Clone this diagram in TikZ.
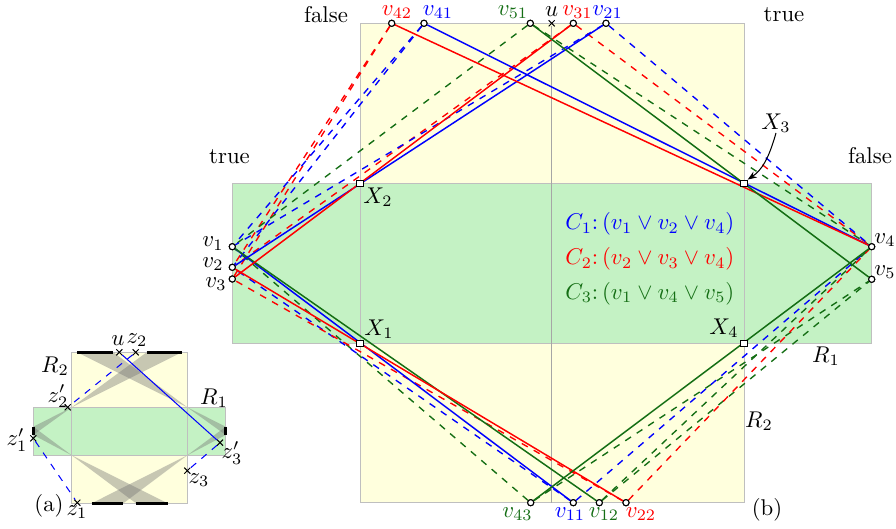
\documentclass[tikz,border=0pt]{standalone}
\usetikzlibrary{arrows.meta,shapes.misc}
\definecolor{dgreen}{RGB}{20,110,20}
\definecolor{yfill}{RGB}{255,255,221}
\definecolor{gfill}{RGB}{196,242,196}
\begin{document}
\begin{tikzpicture}[x=0.4386pt,y=-0.4386pt,
  vpt/.style={circle,draw=black,fill=white,inner sep=0pt,minimum size=2.7pt,line width=0.45pt},
  xpt/.style={rectangle,draw=black,fill=white,inner sep=0pt,minimum size=2.8pt,line width=0.45pt},
  crs/.style={cross out,draw=black,inner sep=0pt,minimum size=2.2pt,line width=0.45pt},
  sol/.style={line width=0.65pt},
  dsh/.style={line width=0.6pt,dashed},
  rborder/.style={draw=black!25,line width=0.4pt},
  fan/.style={fill=black!55,fill opacity=0.4},
  seg/.style={line width=1.2pt,black},
  lab/.style={inner sep=0pt}
]
\useasboundingbox (0,0) rectangle (896,529);

% ---------------- (b) ----------------
\fill[yfill] (360,23.3) rectangle (744,502.7);
\fill[gfill] (232.3,183.3) rectangle (871.7,343.3);
\draw[rborder] (360,23.3) rectangle (744,502.7);
\draw[rborder] (232.3,183.3) rectangle (871.7,343.3);

% points
\node[crs] (u) at (551.7,23.3) {};
\coordinate (ub) at (551.7,502.7);
\draw[black!35,line width=0.4pt] (u) -- (ub);

\node[vpt] (v42) at (391.7,23.3) {};
\node[vpt] (v41) at (424,23.3) {};
\node[vpt] (v51) at (530.3,23.3) {};
\node[vpt] (v31) at (573.3,23.3) {};
\node[vpt] (v21) at (606,23.3) {};

\node[vpt] (v43) at (530.7,502.7) {};
\node[vpt] (v11) at (573.3,502.7) {};
\node[vpt] (v12) at (599.3,502.7) {};
\node[vpt] (v22) at (626,502.7) {};

\node[vpt] (v1) at (232.3,246.7) {};
\node[vpt] (v2) at (232.3,267.3) {};
\node[vpt] (v3) at (232.3,279) {};
\node[vpt] (v4) at (871.7,246.7) {};
\node[vpt] (v5) at (871.7,279.3) {};

% dashed lines
\draw[dsh,red] (v42) -- (v2);
\draw[dsh,red] (v42) -- (v3);
\draw[dsh,blue] (v41) -- (v1);
\draw[dsh,blue] (v41) -- (v2);
\draw[dsh,dgreen] (v51) -- (v1);
\draw[dsh,dgreen] (v51) -- (v4);
\draw[dsh,red] (v31) -- (v2);
\draw[dsh,red] (v31) -- (v4);
\draw[dsh,blue] (v21) -- (v1);
\draw[dsh,blue] (v21) -- (v4);
\draw[dsh,dgreen] (v43) -- (v1);
\draw[dsh,dgreen] (v43) -- (v5);
\draw[dsh,blue] (v11) -- (v2);
\draw[dsh,blue] (v11) -- (v4);
\draw[dsh,dgreen] (v12) -- (v4);
\draw[dsh,dgreen] (v12) -- (v5);
\draw[dsh,red] (v22) -- (v3);
\draw[dsh,red] (v22) -- (v4);

% solid lines
\draw[sol,blue] (v1) -- (v11);
\draw[sol,dgreen] (v1) -- (v12);
\draw[sol,blue] (v2) -- (v21);
\draw[sol,red] (v2) -- (v22);
\draw[sol,red] (v3) -- (v31);
\draw[sol,blue] (v4) -- (v41);
\draw[sol,red] (v4) -- (v42);
\draw[sol,dgreen] (v4) -- (v43);
\draw[sol,dgreen] (v5) -- (v51);

% redraw points on top
\foreach \p in {v42,v41,v51,v31,v21,v43,v11,v12,v22,v1,v2,v3,v4,v5}
  \node[vpt] at (\p) {};

% corner points
\node[xpt] (X1) at (360,343.3) {};
\node[xpt] (X2) at (360,183.3) {};
\node[xpt] (X3) at (744,183.3) {};
\node[xpt] (X4) at (744,343.3) {};

% labels
\node[lab] (lX1) at (379,329) {$X_1$};
\node[lab] (lX2) at (378,197) {$X_2$};
\node[lab] (lX3) at (776,123) {$X_3$};
\node[lab] (lX4) at (724,328) {$X_4$};
\draw[-{Stealth[length=4pt,width=3pt]},line width=0.45pt] (lX3.south) .. controls (769,158) and (762,170) .. (X3.north east);

\node[lab,red] (l42) at (397,12) {$v_{42}$};
\node[lab,blue] (l41) at (438,12) {$v_{41}$};
\node[lab,dgreen] (l51) at (513,12) {$v_{51}$};
\node[lab] (lu) at (551.7,12) {$u$};
\node[lab,red] (l31) at (577.5,12) {$v_{31}$};
\node[lab,blue] (l21) at (607.6,12) {$v_{21}$};

\node[lab,dgreen] (l43) at (517.5,514) {$v_{43}$};
\node[lab,blue] (l11) at (570,514) {$v_{11}$};
\node[lab,dgreen] (l12) at (604,514) {$v_{12}$};
\node[lab,red] (l22) at (641,514) {$v_{22}$};

\node[lab] (l1) at (213,243.5) {$v_1$};
\node[lab] (l2) at (213,264) {$v_2$};
\node[lab] (l3) at (216,284) {$v_3$};
\node[lab] (l4) at (885,240) {$v_4$};
\node[lab] (l5) at (885,272) {$v_5$};

\node[lab] (f1) at (326,15) {false};
\node[lab] (t1) at (784,15) {true};
\node[lab] (t2) at (229.5,157) {true};
\node[lab] (f2) at (870,156) {false};

\node[lab] (R1b) at (826,356) {$R_1$};
\node[lab] (R2b) at (759,421) {$R_2$};
\node[lab] (bb) at (767,510) {(b)};

\node[lab,blue,anchor=west] (C1) at (565,224) {$C_1\colon (v_1 \lor v_2 \lor v_4)$};
\node[lab,red,anchor=west] (C2) at (565,259) {$C_2\colon (v_2 \lor v_3 \lor v_4)$};
\node[lab,dgreen,anchor=west] (C3) at (565,293.5) {$C_3\colon (v_1 \lor v_4 \lor v_5)$};

% ---------------- (a) ----------------
\fill[yfill] (71.7,352.3) rectangle (187.3,503.3);
\fill[gfill] (33.3,407.3) rectangle (225.7,455.3);
\fill[fan] (77.3,352.3) -- (113.3,352.3) -- (187.3,407.3) -- cycle;
\fill[fan] (187.3,407.3) -- (225.7,426.7) -- (225.7,435) -- cycle;
\fill[fan] (146.7,352.3) -- (181.7,352.3) -- (71.7,407.3) -- cycle;
\fill[fan] (71.7,407.3) -- (33.3,426.7) -- (33.3,435) -- cycle;
\fill[fan] (91.7,503.3) -- (123.3,503.3) -- (187.3,455.3) -- cycle;
\fill[fan] (187.3,455.3) -- (225.7,426.7) -- (225.7,435) -- cycle;
\fill[fan] (136,503.3) -- (167.7,503.3) -- (71.7,455.3) -- cycle;
\fill[fan] (71.7,455.3) -- (33.3,426.7) -- (33.3,435) -- cycle;
\draw[rborder] (71.7,352.3) rectangle (187.3,503.3);
\draw[rborder] (33.3,407.3) rectangle (225.7,455.3);

\draw[seg] (77.3,352.3) -- (113.3,352.3);
\draw[seg] (146.7,352.3) -- (181.7,352.3);
\draw[seg] (91.7,503.3) -- (123.3,503.3);
\draw[seg] (136,503.3) -- (167.7,503.3);
\draw[seg] (33.3,426.7) -- (33.3,435);
\draw[seg] (225.7,426.7) -- (225.7,435);

\node[crs] (ua) at (119.3,352.3) {};
\node[crs] (z2) at (135.7,352.3) {};
\node[crs] (z2p) at (67.7,407.3) {};
\node[crs] (z1p) at (33.3,438.3) {};
\node[crs] (z3p) at (220,442.7) {};
\node[crs] (z3) at (187.3,470.7) {};
\node[crs] (z1) at (77.3,502.7) {};

\draw[blue,line width=0.45pt] (ua) -- (z3p);
\draw[blue,line width=0.45pt,dashed] (z2) -- (z2p);
\draw[blue,line width=0.45pt,dashed] (z1p) -- (z1);
\draw[blue,line width=0.45pt,dashed] (z3p) -- (z3);

\node[lab] (lua) at (118,341) {$u$};
\node[lab] (lz2) at (137,340) {$z_2$};
\node[lab] (lz2p) at (58,396.5) {$z_2'$};
\node[lab] (R2a) at (55,366) {$R_2$};
\node[lab] (R1a) at (214,398) {$R_1$};
\node[lab] (lz1p) at (17,440) {$z_1'$};
\node[lab] (lz3p) at (232,453) {$z_3'$};
\node[lab] (lz3) at (199,480) {$z_3$};
\node[lab] (lz1) at (77,512) {$z_1$};
\node[lab] (aa) at (49,506) {(a)};
\end{tikzpicture}
\end{document}
